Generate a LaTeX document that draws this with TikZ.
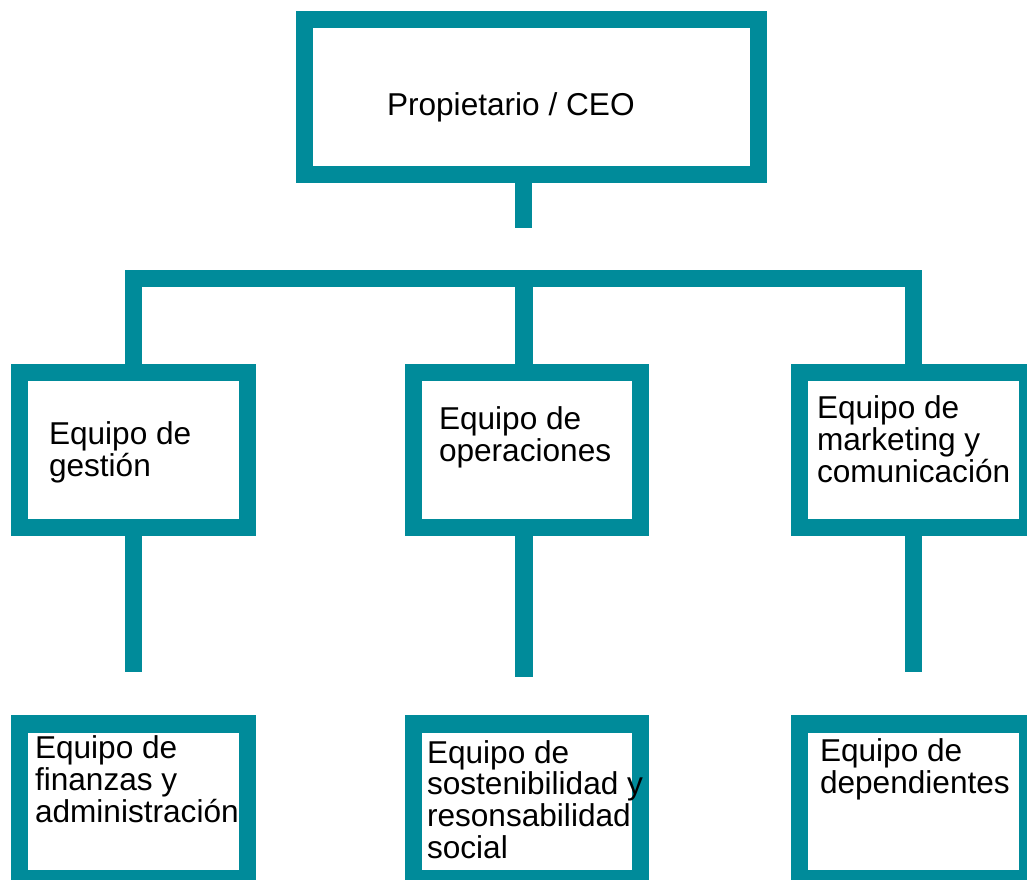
\documentclass[tikz,border=0pt]{standalone}
\usepackage{fontspec}
\setmainfont{Liberation Sans}
\definecolor{tealc}{RGB}{0,139,154}
\tikzset{
  orgbox/.style={draw=tealc, line width=17.5pt, rectangle, inner sep=0pt, outer sep=0pt, fill=white},
  conn/.style={draw=tealc, line width=17.5pt, line cap=butt, line join=miter},
  txt/.style={anchor=base west, inner sep=0pt, outer sep=0pt, align=left, text=black,
              font=\fontsize{31.6}{31.6}\selectfont}
}
\begin{document}
\begin{tikzpicture}[x=1pt,y=-1pt]
\useasboundingbox (0,0) rectangle (1027,879);
\clip (0,0) rectangle (1027,879);
\fill[white] (0,0) rectangle (1027,879);

% boxes (centre lines of their thick borders)
\node[orgbox, minimum width=454pt, minimum height=155pt] (ceo) at (531.5,97) {};
\node[orgbox, minimum width=228pt, minimum height=155pt] (gestion) at (133.5,450) {};
\node[orgbox, minimum width=227pt, minimum height=155pt] (ops) at (527,450) {};
\node[orgbox, minimum width=228pt, minimum height=155pt] (mkt) at (913.5,450) {};
\node[orgbox, minimum width=228pt, minimum height=154.5pt] (fin) at (133.5,801.25) {};
\node[orgbox, minimum width=227pt, minimum height=154.5pt] (sost) at (527,801.25) {};
\node[orgbox, minimum width=228pt, minimum height=154.5pt] (dep) at (913.5,801.25) {};

% connector end points
\coordinate (stubend) at (523.5,228);
\coordinate (bar) at (524,278.5);
\coordinate (lowend) at (0,672);
\coordinate (opsend) at (524,677);

% connectors
\draw[conn] (ceo.south -| stubend) -- (stubend);
\draw[conn] (gestion.north) |- (bar) -| (mkt.north);
\draw[conn] (bar) -- (bar |- ops.north);
\draw[conn] (gestion.south) -- (gestion.south |- lowend);
\draw[conn] (ops.south -| opsend) -- (opsend);
\draw[conn] (mkt.south) -- (mkt.south |- lowend);

% texts (anchored at the baseline of their last line)
\node[txt] (tceo) at (387,115) {Propietario / CEO};
\node[txt] (tgestion) at (49,476) {Equipo de\\gestión};
\node[txt] (tops) at (439,461.5) {Equipo de\\operaciones};
\node[txt] (tmkt) at (817,482) {Equipo de\\marketing y\\comunicación};
\node[txt] (tfin) at (35,822) {Equipo de\\finanzas y\\administración};
\node[txt] (tsost) at (427,858) {Equipo de\\sostenibilidad y\\resonsabilidad\\social};
\node[txt] (tdep) at (820,793.5) {Equipo de\\dependientes};
\end{tikzpicture}
\end{document}
